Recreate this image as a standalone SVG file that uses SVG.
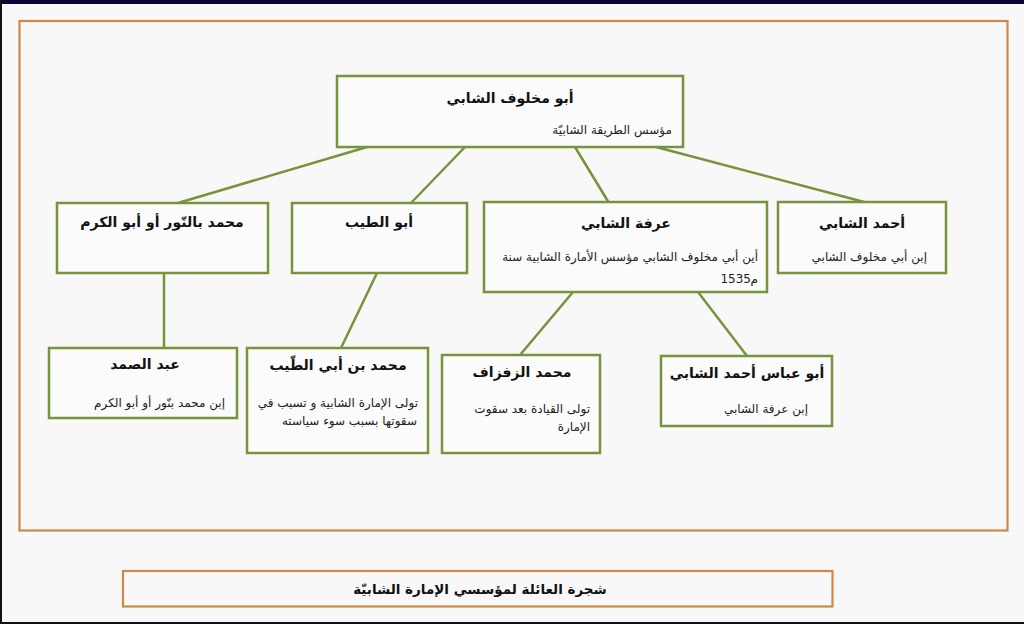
<svg xmlns="http://www.w3.org/2000/svg" width="1024" height="624" viewBox="0 0 1024 624">
<style>
.node rect{fill:#fbfbfb;stroke:#77933c;stroke-width:2.5}
.conn line{stroke:#77933c;stroke-width:2.5;stroke-linecap:round}
.frame{fill:none;stroke:#d0874a;stroke-width:2.2}
.t{font-family:"DejaVu Sans",sans-serif;font-weight:bold;font-size:14px;fill:#111;text-anchor:middle}
.s{font-family:"DejaVu Sans",sans-serif;font-size:12px;fill:#222;text-anchor:end}
.cap{font-family:"DejaVu Sans",sans-serif;font-weight:bold;font-size:13.5px;fill:#111;text-anchor:middle}
</style>
<rect x="0" y="0" width="1024" height="624" fill="#f8f8f8"/>
<rect x="0" y="0" width="1024" height="4" fill="#07073a"/>
<rect x="0" y="0" width="2" height="624" fill="#111"/>
<rect x="0" y="622" width="1024" height="2" fill="#111"/>
<rect class="frame" x="19.5" y="21" width="988" height="509.5"/>

<g class="conn">
<line x1="367" y1="147" x2="178" y2="203"/>
<line x1="465" y1="147" x2="411" y2="203"/>
<line x1="575" y1="147" x2="609" y2="203"/>
<line x1="656" y1="147" x2="868" y2="203"/>
<line x1="164" y1="273" x2="164" y2="348"/>
<line x1="377" y1="273" x2="341" y2="348"/>
<line x1="573" y1="292" x2="520" y2="355"/>
<line x1="698" y1="292" x2="747" y2="356"/>
</g>

<g id="n-abu-makhluf" class="node">
<rect x="337" y="76" width="346" height="71"/>
<text class="t" x="510" y="103">أبو مخلوف الشابي</text>
<text class="s" x="672" y="134">مؤسس الطريقة الشابيّة</text>
</g>

<g id="n-muhammad-bannur" class="node">
<rect x="57" y="203" width="211" height="70"/>
<text class="t" x="162" y="227">محمد بالنّور أو أبو الكرم</text>
</g>

<g id="n-abu-tayyib" class="node">
<rect x="292" y="203" width="175" height="70"/>
<text class="t" x="379" y="227">أبو الطيب</text>
</g>

<g id="n-arafa" class="node">
<rect x="484" y="202" width="283" height="90"/>
<text class="t" x="626" y="228">عرفة الشابي</text>
<text class="s" x="758" y="261">أين أبي مخلوف الشابي مؤسس الأمارة الشابية سنة</text>
<text class="s" x="751" y="283">1535</text>
<text class="s" x="758" y="283">م</text>
</g>

<g id="n-ahmad" class="node">
<rect x="778" y="202" width="168" height="71"/>
<text class="t" x="862" y="228">أحمد الشابي</text>
<text class="s" x="927" y="261">إبن أبي مخلوف الشابي</text>
</g>

<g id="n-abd-samad" class="node">
<rect x="49" y="348" width="188" height="70"/>
<text class="t" x="145" y="369">عبد الصمد</text>
<text class="s" x="225" y="407">إبن محمد بنّور أو أبو الكرم</text>
</g>

<g id="n-muhammad-abi-tayyib" class="node">
<rect x="247" y="348" width="181" height="105"/>
<text class="t" x="338" y="370">محمد بن أبي الطّيب</text>
<text class="s" x="418" y="407">تولى الإمارة الشابية و تسبب في</text>
<text class="s" x="417" y="425">سقوتها بسبب سوء سياسته</text>
</g>

<g id="n-zafzaf" class="node">
<rect x="442" y="355" width="158" height="98"/>
<text class="t" x="522" y="377">محمد الزفزاف</text>
<text class="s" x="590" y="413">تولى القيادة بعد سقوت</text>
<text class="s" x="590" y="431">الإمارة</text>
</g>

<g id="n-abu-abbas" class="node">
<rect x="661" y="356" width="171" height="70"/>
<text class="t" x="747" y="378">أبو عباس أحمد الشابي</text>
<text class="s" x="808" y="413">إبن عرفة الشابي</text>
</g>

<g id="caption">
<rect class="frame" x="123" y="571" width="709.5" height="35.5"/>
<text class="cap" x="480" y="594">شجرة العائلة لمؤسسي الإمارة الشابيّة</text>
</g>
</svg>
